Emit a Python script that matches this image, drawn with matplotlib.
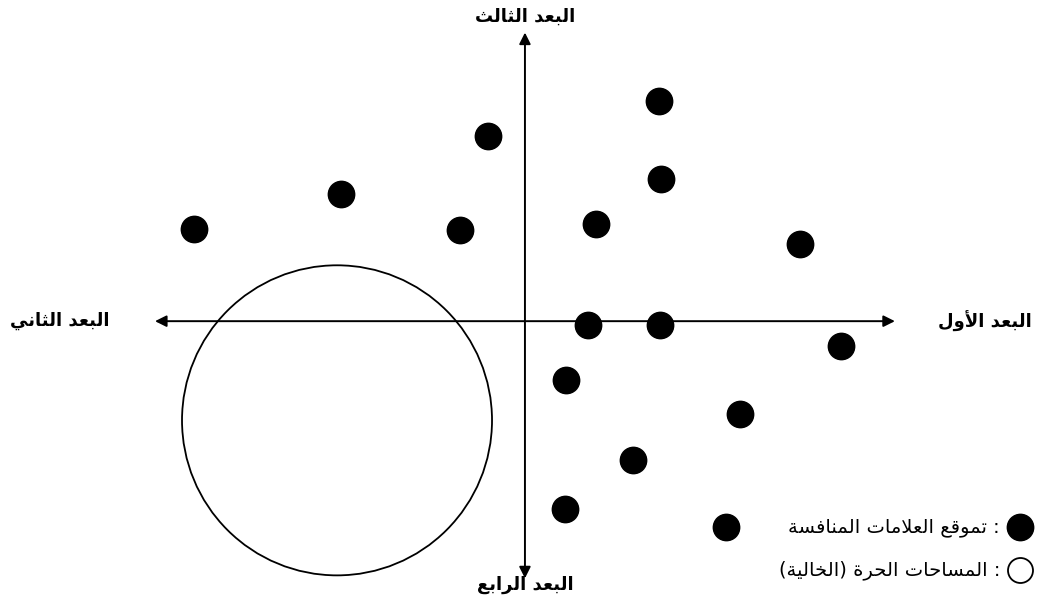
import matplotlib
matplotlib.use("Agg")
import matplotlib.pyplot as plt
from matplotlib.patches import Circle

# competitor positions on the four-dimension map
comp_x = [3.62, -1.00, 3.68, -4.97, -8.95, -1.76, 1.92, 7.43, 1.70, 3.65, 8.54, 1.11, 5.81, 2.92, 1.08, 5.43]
comp_y = [5.95, 5.00, 3.84, 3.43, 2.49, 2.46, 2.62, 2.08, -0.11, -0.11, -0.68, -1.59, -2.51, -3.76, -5.08, -5.57]

# free (empty) space
gap_center = (-5.08, -2.68)
gap_radius = 4.19

axis_labels = ["البعد الأول", "البعد الثاني", "البعد الثالث", "البعد الرابع"]
legend_labels = [": تموقع العلامات المنافسة", ": المساحات الحرة (الخالية)"]

# --- minimal arabic shaping (matplotlib has no bidi / joining) ---
FORMS = {
    'ا': (0xFE8D, 0xFE8E, None, None),
    'أ': (0xFE83, 0xFE84, None, None),
    'ب': (0xFE8F, 0xFE90, 0xFE91, 0xFE92),
    'ة': (0xFE93, 0xFE94, None, None),
    'ت': (0xFE95, 0xFE96, 0xFE97, 0xFE98),
    'ث': (0xFE99, 0xFE9A, 0xFE9B, 0xFE9C),
    'ح': (0xFEA1, 0xFEA2, 0xFEA3, 0xFEA4),
    'خ': (0xFEA5, 0xFEA6, 0xFEA7, 0xFEA8),
    'د': (0xFEA9, 0xFEAA, None, None),
    'ر': (0xFEAD, 0xFEAE, None, None),
    'س': (0xFEB1, 0xFEB2, 0xFEB3, 0xFEB4),
    'ع': (0xFEC9, 0xFECA, 0xFECB, 0xFECC),
    'ف': (0xFED1, 0xFED2, 0xFED3, 0xFED4),
    'ق': (0xFED5, 0xFED6, 0xFED7, 0xFED8),
    'ل': (0xFEDD, 0xFEDE, 0xFEDF, 0xFEE0),
    'م': (0xFEE1, 0xFEE2, 0xFEE3, 0xFEE4),
    'ن': (0xFEE5, 0xFEE6, 0xFEE7, 0xFEE8),
    'و': (0xFEED, 0xFEEE, None, None),
    'ي': (0xFEF1, 0xFEF2, 0xFEF3, 0xFEF4),
    'لا': (0xFEFB, 0xFEFC, None, None),
    'لأ': (0xFEF7, 0xFEF8, None, None),
}
MIRROR = {'(': ')', ')': '('}


def shape(s):
    toks = []
    i = 0
    while i < len(s):
        if s[i] == 'ل' and i + 1 < len(s) and s[i + 1] in 'اأ':
            toks.append(s[i:i + 2])
            i += 2
        else:
            toks.append(s[i])
            i += 1
    out = []
    for k, t in enumerate(toks):
        if t not in FORMS:
            out.append(MIRROR.get(t, t))
            continue
        f = FORMS[t]
        prev = toks[k - 1] if k > 0 else None
        nxt = toks[k + 1] if k + 1 < len(toks) else None
        jp = prev in FORMS and FORMS[prev][2] is not None
        jn = nxt in FORMS and f[2] is not None
        if jp and jn:
            c = f[3]
        elif jp:
            c = f[1]
        elif jn:
            c = f[2]
        else:
            c = f[0]
        out.append(chr(c))
    return ''.join(out[::-1])


plt.rcParams['font.family'] = ['DejaVu Sans']

fig = plt.figure(figsize=(10.51, 6.12), dpi=100)
ax = fig.add_axes([0, 0, 1, 1])
ax.set_xlim(-14.19, 14.22)
ax.set_ylim(-7.86, 8.68)
ax.axis('off')

arr = dict(arrowstyle='<|-|>', color='black', lw=1.4, mutation_scale=17, shrinkA=0, shrinkB=0)
ax.annotate('', xy=(-10.0, 0), xytext=(10.0, 0), arrowprops=arr)
ax.annotate('', xy=(0, -6.95), xytext=(0, 7.8), arrowprops=arr)

ax.add_patch(Circle(gap_center, gap_radius, fill=False, ec='black', lw=1.3))
ax.plot(comp_x, comp_y, 'o', color='black', ms=19, ls='none')

fs = 13
ax.text(12.43, 0, shape(axis_labels[0]), ha='center', va='center', fontsize=fs, fontweight='bold')
ax.text(-12.57, 0, shape(axis_labels[1]), ha='center', va='center', fontsize=fs, fontweight='bold')
ax.text(0, 8.22, shape(axis_labels[2]), ha='center', va='center', fontsize=fs, fontweight='bold')
ax.text(0, -7.14, shape(axis_labels[3]), ha='center', va='center', fontsize=fs, fontweight='bold')

# legend
ax.plot([13.38], [-5.57], 'o', color='black', ms=19)
ax.plot([13.38], [-6.73], 'o', mfc='white', mec='black', mew=1.3, ms=18)
ax.text(12.84, -5.57, shape(legend_labels[0]), ha='right', va='center', fontsize=14)
ax.text(12.84, -6.73, shape(legend_labels[1]), ha='right', va='center', fontsize=14)

fig.savefig('out.png', dpi=100)
